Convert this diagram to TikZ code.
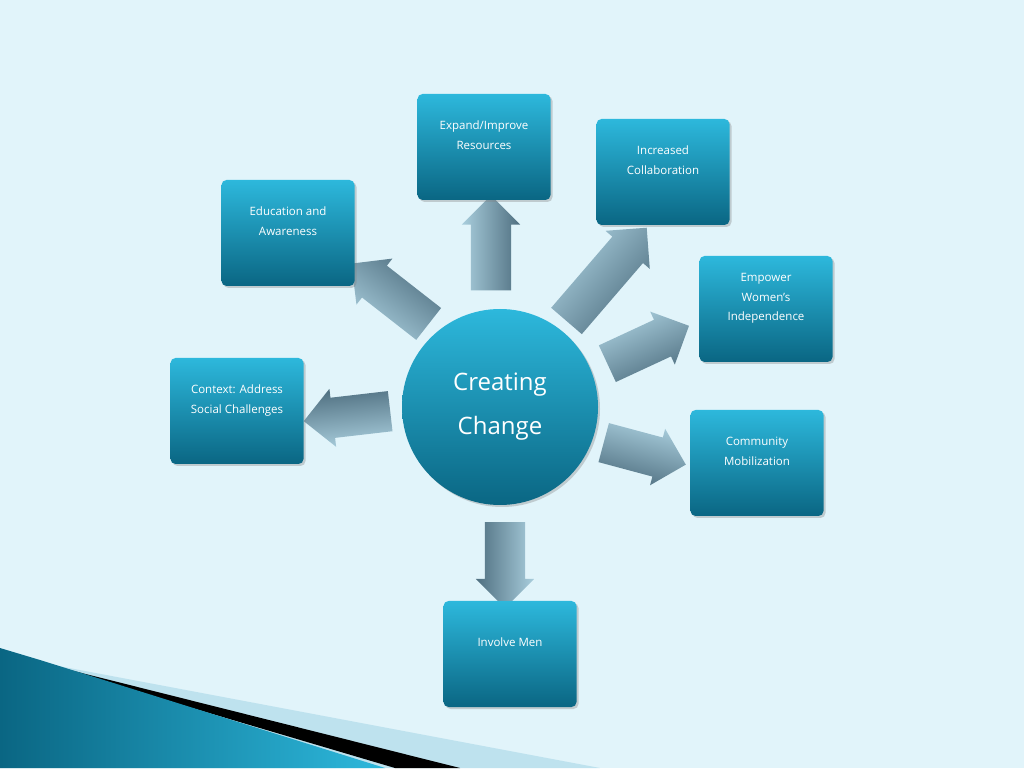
\documentclass[tikz,border=0pt]{standalone}
\usepackage{fontspec}
\setmainfont{Open Sans}
\usetikzlibrary{shapes.arrows,shadows}
\definecolor{bg}{HTML}{E1F4FA}
\definecolor{tl}{HTML}{2DB8DC}
\definecolor{td}{HTML}{0A6683}
\definecolor{al}{HTML}{A9CEDD}
\definecolor{ad}{HTML}{4F6F80}
\tikzset{
  box/.style={rounded corners=5pt,minimum width=133pt,minimum height=106pt,top color=tl,bottom color=td,text=white,align=center,font=\fontsize{11.5}{19.5}\selectfont,drop shadow={opacity=0.35,shadow xshift=2pt,shadow yshift=-2pt}},
  arr/.style={single arrow,single arrow head extend=9pt,inner xsep=0pt,inner ysep=20pt,left color=al,right color=ad,draw=none}
}
\begin{document}
\begin{tikzpicture}[x=1pt,y=1pt]
\useasboundingbox (0,0) rectangle (1024,768);
\fill[bg] (0,0) rectangle (1024,768);
% bottom-left decoration
\fill[color={rgb,255:red,190;green,226;blue,238}] (0,113) -- (600,0) -- (0,0) -- cycle;
\fill[black] (30,108) -- (460,0) -- (395,0) -- cycle;
\shade[left color=td,right color=tl] (0,120) -- (40,108) -- (385,0) -- (0,0) -- cycle;
% arrows
\node[arr,minimum height=95pt,rotate=90,shading angle=90] (a1) at (491,515) {};
\node[arr,minimum height=86pt,rotate=-90,shading angle=-90] (a2) at (505,213) {};
\node[arr,minimum height=87pt,rotate=186.6,shading angle=186] (a3) at (357,353) {};
\node[arr,minimum height=98pt,rotate=142,shading angle=142] (a4) at (398,468) {};
\node[arr,minimum height=123pt,rotate=49.3,shading angle=49] (a5) at (600,486) {};
\node[arr,minimum height=90pt,rotate=24.9,shading angle=25] (a6) at (639,419) {};
\node[arr,minimum height=85pt,rotate=-15,shading angle=-15] (a7) at (635,317) {};
% center
\node[circle,minimum size=196pt,top color=tl,bottom color=td,text=white,align=center,font=\fontsize{24}{44}\selectfont,drop shadow={opacity=0.35,shadow xshift=2pt,shadow yshift=-2pt}] (c) at (500,361) {Creating\\Change};
% boxes
\node[box] (b1) at (484,621) {Expand/Improve\\Resources\\[4pt]};
\node[box] (b2) at (663,596) {Increased\\Collaboration\\[4pt]};
\node[box] (b3) at (288,535) {Education and\\Awareness\\[4pt]};
\node[box] (b4) at (766,459) {Empower\\Women’s\\Independence\\[4pt]};
\node[box] (b5) at (237,357) {Context: Address\\Social Challenges\\[4pt]};
\node[box] (b6) at (757,305) {Community\\Mobilization\\[4pt]};
\node[box] (b7) at (510,114) {Involve Men\\[4pt]};
\end{tikzpicture}
\end{document}
